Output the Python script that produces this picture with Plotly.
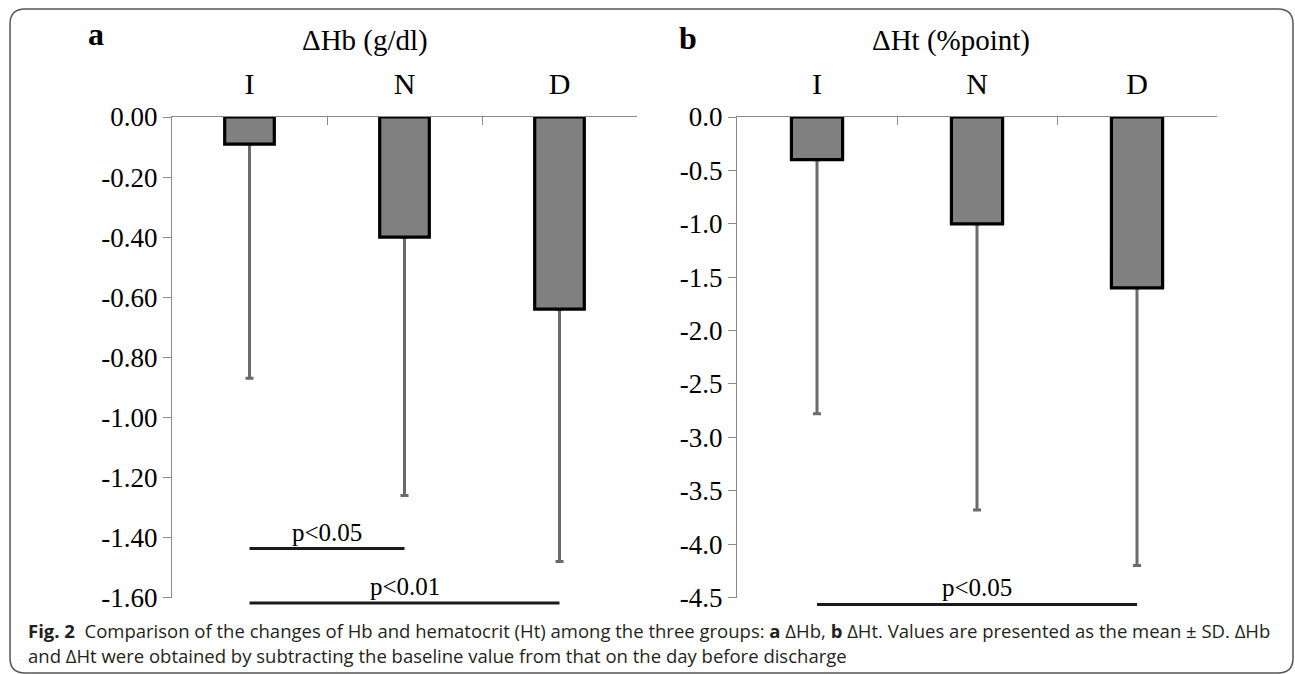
import plotly.graph_objects as go

W, H = 1295, 674

# ---------------- data ----------------
groups = ["I", "N", "D"]

hb_mean = [-0.09, -0.40, -0.64]
hb_sd = [0.78, 0.86, 0.84]

ht_mean = [-0.40, -1.00, -1.60]
ht_sd = [2.38, 2.68, 2.60]

hb_ticks = [0.0, -0.2, -0.4, -0.6, -0.8, -1.0, -1.2, -1.4, -1.6]
hb_ticktext = ["0.00", "-0.20", "-0.40", "-0.60", "-0.80", "-1.00", "-1.20", "-1.40", "-1.60"]
ht_ticks = [0.0, -0.5, -1.0, -1.5, -2.0, -2.5, -3.0, -3.5, -4.0, -4.5]
ht_ticktext = ["0.0", "-0.5", "-1.0", "-1.5", "-2.0", "-2.5", "-3.0", "-3.5", "-4.0", "-4.5"]

hb_sig_from = ["I", "I"]
hb_sig_to = ["N", "D"]
hb_sig_level = [-1.437, -1.618]
hb_sig_text = ["p<0.05", "p<0.01"]

ht_sig_from = ["I"]
ht_sig_to = ["D"]
ht_sig_level = [-4.565]
ht_sig_text = ["p<0.05"]

title_a = "ΔHb (g/dl)"
title_b = "ΔHt (%point)"
caption_1 = ("<b>Fig. 2</b>\u00a0\u00a0Comparison of the changes of Hb and hematocrit (Ht) among the three groups: "
             "<b>a</b> ΔHb, <b>b</b> ΔHt. Values are presented as the mean ± SD. ΔHb")
caption_2 = "and ΔHt were obtained by subtracting the baseline value from that on the day before discharge"

# ---------------- style ----------------
SERIF = "Liberation Serif"
AX_COL = "#8a8a8a"
BAR_COL = "#808080"
ERR_COL = "#6a6a6a"

xa_dom = [172 / W, 637 / W]
xb_dom = [737 / W, 1217 / W]
y_dom = [1 - 597.5 / H, 1 - 117 / H]

hb_range = [-1.6, 0.0]
ht_range = [-4.5, 0.0]


def to_paper(v, rng):
    return y_dom[0] + (v - rng[0]) / (rng[1] - rng[0]) * (y_dom[1] - y_dom[0])


fig = go.Figure()


def add_panel(mean, sd, xa, ya):
    # carrier of the whiskers (drawn first, so the real bar covers the upper hat)
    fig.add_trace(go.Bar(
        x=groups, y=mean, width=0.32, xaxis=xa, yaxis=ya,
        marker=dict(color="rgba(0,0,0,0)", line=dict(width=0)),
        error_y=dict(type="data", symmetric=False, array=[0] * len(mean), arrayminus=sd,
                     color=ERR_COL, thickness=3, width=4),
        hoverinfo="skip", showlegend=False))
    fig.add_trace(go.Bar(
        x=groups, y=mean, width=0.32, xaxis=xa, yaxis=ya,
        marker=dict(color=BAR_COL, line=dict(color="black", width=3.2)),
        showlegend=False))


add_panel(hb_mean, hb_sd, "x", "y")
add_panel(ht_mean, ht_sd, "x2", "y2")

xcommon = dict(type="category", side="top", range=[-0.5, 2.5], showline=True, linecolor=AX_COL,
               linewidth=1.3, ticks="inside", tickson="boundaries", ticklen=8, tickcolor=AX_COL,
               tickwidth=1.3, tickfont=dict(family=SERIF, size=30, color="black"),
               ticklabelstandoff=10, showgrid=False, zeroline=False, fixedrange=True,
               automargin=False)
ycommon = dict(showline=True, linecolor=AX_COL, linewidth=1.3, ticks="outside", ticklen=8,
               tickcolor=AX_COL, tickwidth=1.3, tickfont=dict(family=SERIF, size=27, color="black"),
               showgrid=False, zeroline=False, fixedrange=True, automargin=False)

fig.update_layout(
    xaxis=dict(domain=xa_dom, anchor="y", **xcommon),
    yaxis=dict(domain=y_dom, anchor="x", range=hb_range, tickvals=hb_ticks, ticktext=hb_ticktext, **ycommon),
    xaxis2=dict(domain=xb_dom, anchor="y2", **xcommon),
    yaxis2=dict(domain=y_dom, anchor="x2", range=ht_range, tickvals=ht_ticks, ticktext=ht_ticktext, **ycommon),
)

shapes = []
annotations = []


def add_sig(froms, tos, levels, texts, xref, rng):
    for f, t, lv, tx in zip(froms, tos, levels, texts):
        i0, i1 = groups.index(f), groups.index(t)
        py = to_paper(lv, rng)
        shapes.append(dict(type="line", xref=xref, yref="paper", x0=i0, x1=i1, y0=py, y1=py,
                           line=dict(color="#1a1a1a", width=3)))
        annotations.append(dict(text=tx, xref=xref, yref="paper", x=(i0 + i1) / 2, y=py,
                                xanchor="center", yanchor="bottom", yshift=1, showarrow=False,
                                font=dict(family=SERIF, size=25, color="black")))


add_sig(hb_sig_from, hb_sig_to, hb_sig_level, hb_sig_text, "x", hb_range)
add_sig(ht_sig_from, ht_sig_to, ht_sig_level, ht_sig_text, "x2", ht_range)

# panel letters and titles
annotations += [
    dict(text="<b>a</b>", x=96 / W, y=1 - 34 / H, xref="paper", yref="paper", xanchor="center",
         yanchor="middle", showarrow=False, font=dict(family=SERIF, size=32, color="black")),
    dict(text="<b>b</b>", x=688 / W, y=1 - 38 / H, xref="paper", yref="paper", xanchor="center",
         yanchor="middle", showarrow=False, font=dict(family=SERIF, size=32, color="black")),
    dict(text=title_a, x=365 / W, y=1 - 40 / H, xref="paper", yref="paper", xanchor="center",
         yanchor="middle", showarrow=False, font=dict(family=SERIF, size=29, color="black")),
    dict(text=title_b, x=951 / W, y=1 - 40 / H, xref="paper", yref="paper", xanchor="center",
         yanchor="middle", showarrow=False, font=dict(family=SERIF, size=29, color="black")),
    dict(text=caption_1, x=26 / W, y=1 - 630 / H, xref="paper", yref="paper", xanchor="left",
         yanchor="middle", showarrow=False, align="left",
         font=dict(family="Open Sans", size=18.5, color="#231f20")),
    dict(text=caption_2, x=26 / W, y=1 - 655 / H, xref="paper", yref="paper", xanchor="left",
         yanchor="middle", showarrow=False, align="left",
         font=dict(family="Open Sans", size=18.5, color="#231f20")),
]

# rounded outer frame
x0, x1 = 10 / W, 1293 / W
y0, y1 = 1 - 673 / H, 1 - 9 / H
rx, ry = 15 / W, 15 / H
frame = (f"M {x0 + rx} {y1} L {x1 - rx} {y1} Q {x1} {y1} {x1} {y1 - ry} "
         f"L {x1} {y0 + ry} Q {x1} {y0} {x1 - rx} {y0} "
         f"L {x0 + rx} {y0} Q {x0} {y0} {x0} {y0 + ry} "
         f"L {x0} {y1 - ry} Q {x0} {y1} {x0 + rx} {y1} Z")
shapes.append(dict(type="path", xref="paper", yref="paper", path=frame,
                   line=dict(color="#555555", width=1.5)))

fig.update_layout(
    width=W, height=H, autosize=False,
    margin=dict(l=0, r=0, t=0, b=0, pad=0, autoexpand=False),
    paper_bgcolor="white", plot_bgcolor="white",
    barmode="overlay", showlegend=False,
    shapes=shapes, annotations=annotations,
)

fig.write_html(
    "out.html",
    config={"displayModeBar": False, "responsive": False},
    post_script="document.body.style.margin='0';document.body.style.padding='0';"
                "document.body.style.overflow='hidden';",
)
